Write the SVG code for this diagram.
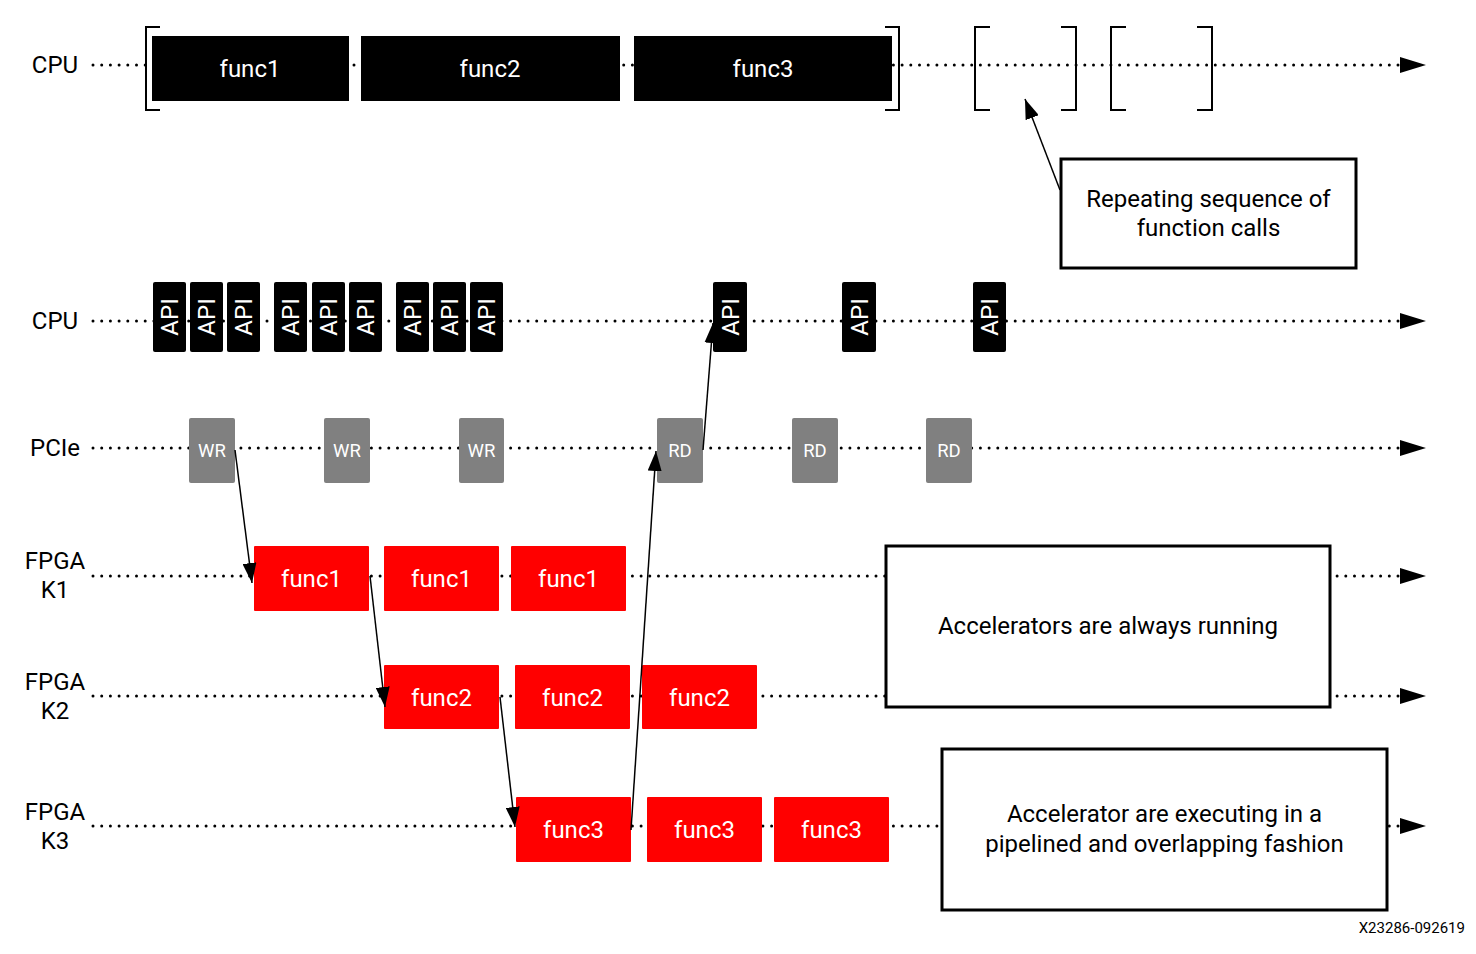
<svg xmlns="http://www.w3.org/2000/svg" width="1476" height="954" viewBox="0 0 1476 954">
<defs>
<style>
text{font-family:Roboto,"Liberation Sans",sans-serif;}
.lbl{font-size:24px;fill:#000;text-anchor:middle;}
.wt{font-size:24px;fill:#fff;text-anchor:middle;}
.sm{font-size:18.5px;fill:#fff;text-anchor:middle;}
.dot{stroke:#000;stroke-width:3;stroke-linecap:round;stroke-dasharray:0 8.7;fill:none;}
.blk{fill:#000;}
.red{fill:#ff0000;}
.gry{fill:#808080;}
.br{fill:none;stroke:#000;stroke-width:2;}
.box{fill:#fff;stroke:#000;stroke-width:3;}
.conn{stroke:#000;stroke-width:1.5;fill:none;marker-end:url(#ah);}
</style>
<marker id="ah" markerUnits="userSpaceOnUse" markerWidth="22" markerHeight="14" refX="20" refY="7" orient="auto">
<path d="M0,0 L20,7 L0,14 z" fill="#000"/>
</marker>
</defs>
<rect width="1476" height="954" fill="#fff"/>

<g id="timelines">
<line class="dot" x1="93" y1="65" x2="1398" y2="65"/>
<line class="dot" x1="93" y1="321" x2="1398" y2="321"/>
<line class="dot" x1="93" y1="448" x2="1398" y2="448"/>
<line class="dot" x1="93" y1="576" x2="1398" y2="576"/>
<line class="dot" x1="93" y1="696" x2="1398" y2="696"/>
<line class="dot" x1="93" y1="826" x2="1398" y2="826"/>
<path d="M1400,57 L1426,65 L1400,73 z"/>
<path d="M1400,313 L1426,321 L1400,329 z"/>
<path d="M1400,440 L1426,448 L1400,456 z"/>
<path d="M1400,568 L1426,576 L1400,584 z"/>
<path d="M1400,688 L1426,696 L1400,704 z"/>
<path d="M1400,818 L1426,826 L1400,834 z"/>
</g>

<g id="row-labels">
<text class="lbl" x="55" y="73">CPU</text>
<text class="lbl" x="55" y="329">CPU</text>
<text class="lbl" x="55" y="456">PCIe</text>
<text class="lbl" x="55" y="569">FPGA</text>
<text class="lbl" x="55" y="598">K1</text>
<text class="lbl" x="55" y="690">FPGA</text>
<text class="lbl" x="55" y="719">K2</text>
<text class="lbl" x="55" y="820">FPGA</text>
<text class="lbl" x="55" y="849">K3</text>
</g>

<g id="brackets">
<path class="br" d="M160,27 H146 V110 H160"/>
<path class="br" d="M885,27 H899 V110 H885"/>
<path class="br" d="M990,27 H975 V110 H990"/>
<path class="br" d="M1061,27 H1076 V110 H1061"/>
<path class="br" d="M1126,27 H1111 V110 H1126"/>
<path class="br" d="M1197,27 H1212 V110 H1197"/>
</g>

<g id="cpu-func1"><rect class="blk" x="152" y="36" width="197" height="65"/><text class="wt" x="250" y="77">func1</text></g>
<g id="cpu-func2"><rect class="blk" x="361" y="36" width="259" height="65"/><text class="wt" x="490" y="77">func2</text></g>
<g id="cpu-func3"><rect class="blk" x="634" y="36" width="258" height="65"/><text class="wt" x="763" y="77">func3</text></g>

<g id="api-calls">
<g id="api1"><rect class="blk" x="153" y="282" width="33" height="70" rx="2"/><text class="wt" transform="translate(178,317) rotate(-90)">API</text></g>
<g id="api2"><rect class="blk" x="190" y="282" width="33" height="70" rx="2"/><text class="wt" transform="translate(215,317) rotate(-90)">API</text></g>
<g id="api3"><rect class="blk" x="227" y="282" width="33" height="70" rx="2"/><text class="wt" transform="translate(252,317) rotate(-90)">API</text></g>
<g id="api4"><rect class="blk" x="274" y="282" width="33" height="70" rx="2"/><text class="wt" transform="translate(299,317) rotate(-90)">API</text></g>
<g id="api5"><rect class="blk" x="312" y="282" width="33" height="70" rx="2"/><text class="wt" transform="translate(337,317) rotate(-90)">API</text></g>
<g id="api6"><rect class="blk" x="349" y="282" width="33" height="70" rx="2"/><text class="wt" transform="translate(374,317) rotate(-90)">API</text></g>
<g id="api7"><rect class="blk" x="396" y="282" width="33" height="70" rx="2"/><text class="wt" transform="translate(421,317) rotate(-90)">API</text></g>
<g id="api8"><rect class="blk" x="433" y="282" width="33" height="70" rx="2"/><text class="wt" transform="translate(458,317) rotate(-90)">API</text></g>
<g id="api9"><rect class="blk" x="470" y="282" width="33" height="70" rx="2"/><text class="wt" transform="translate(495,317) rotate(-90)">API</text></g>
<g id="api10"><rect class="blk" x="713" y="282" width="34" height="70" rx="2"/><text class="wt" transform="translate(738.5,317) rotate(-90)">API</text></g>
<g id="api11"><rect class="blk" x="842" y="282" width="34" height="70" rx="2"/><text class="wt" transform="translate(867.5,317) rotate(-90)">API</text></g>
<g id="api12"><rect class="blk" x="973" y="282" width="33" height="70" rx="2"/><text class="wt" transform="translate(998,317) rotate(-90)">API</text></g>
</g>

<g id="pcie">
<g id="wr1"><rect class="gry" x="189" y="418" width="46" height="65" rx="2"/><text class="sm" x="212" y="457">WR</text></g>
<g id="wr2"><rect class="gry" x="324" y="418" width="46" height="65" rx="2"/><text class="sm" x="347" y="457">WR</text></g>
<g id="wr3"><rect class="gry" x="459" y="418" width="45" height="65" rx="2"/><text class="sm" x="481.5" y="457">WR</text></g>
<g id="rd1"><rect class="gry" x="657" y="418" width="46" height="65" rx="2"/><text class="sm" x="680" y="457">RD</text></g>
<g id="rd2"><rect class="gry" x="792" y="418" width="46" height="65" rx="2"/><text class="sm" x="815" y="457">RD</text></g>
<g id="rd3"><rect class="gry" x="926" y="418" width="46" height="65" rx="2"/><text class="sm" x="949" y="457">RD</text></g>
</g>

<g id="k1">
<g id="k1-f1a"><rect class="red" x="254" y="546" width="115" height="65" rx="1"/><text class="wt" x="311.5" y="587">func1</text></g>
<g id="k1-f1b"><rect class="red" x="384" y="546" width="115" height="65" rx="1"/><text class="wt" x="441.5" y="587">func1</text></g>
<g id="k1-f1c"><rect class="red" x="511" y="546" width="115" height="65" rx="1"/><text class="wt" x="568.5" y="587">func1</text></g>
</g>
<g id="k2">
<g id="k2-f2a"><rect class="red" x="384" y="665" width="115" height="64" rx="1"/><text class="wt" x="441.5" y="706">func2</text></g>
<g id="k2-f2b"><rect class="red" x="515" y="665" width="115" height="64" rx="1"/><text class="wt" x="572.5" y="706">func2</text></g>
<g id="k2-f2c"><rect class="red" x="642" y="665" width="115" height="64" rx="1"/><text class="wt" x="699.5" y="706">func2</text></g>
</g>
<g id="k3">
<g id="k3-f3a"><rect class="red" x="516" y="797" width="115" height="65" rx="1"/><text class="wt" x="573.5" y="838">func3</text></g>
<g id="k3-f3b"><rect class="red" x="647" y="797" width="115" height="65" rx="1"/><text class="wt" x="704.5" y="838">func3</text></g>
<g id="k3-f3c"><rect class="red" x="774" y="797" width="115" height="65" rx="1"/><text class="wt" x="831.5" y="838">func3</text></g>
</g>

<g id="note-repeat"><rect class="box" x="1061" y="159" width="295" height="109"/><text class="lbl" x="1208.5" y="207">Repeating sequence of</text><text class="lbl" x="1208.5" y="236">function calls</text></g>
<g id="note-running"><rect class="box" x="886" y="546" width="444" height="161"/><text class="lbl" x="1108" y="634">Accelerators are always running</text></g>
<g id="note-pipelined"><rect class="box" x="942" y="749" width="445" height="161"/><text class="lbl" x="1164.5" y="822">Accelerator are executing in a</text><text class="lbl" x="1164.5" y="852">pipelined and overlapping fashion</text></g>

<g id="connectors">
<line class="conn" x1="235" y1="450" x2="252" y2="583"/>
<line class="conn" x1="370" y1="576" x2="385" y2="707"/>
<line class="conn" x1="500" y1="697" x2="515" y2="827"/>
<line class="conn" x1="631" y1="830" x2="656" y2="451"/>
<line class="conn" x1="703" y1="450" x2="713" y2="323"/>
<line class="conn" x1="1060" y1="190" x2="1025" y2="99"/>
</g>

<text x="1465" y="933" style="font-size:15px;fill:#000;text-anchor:end;">X23286-092619</text>
</svg>
